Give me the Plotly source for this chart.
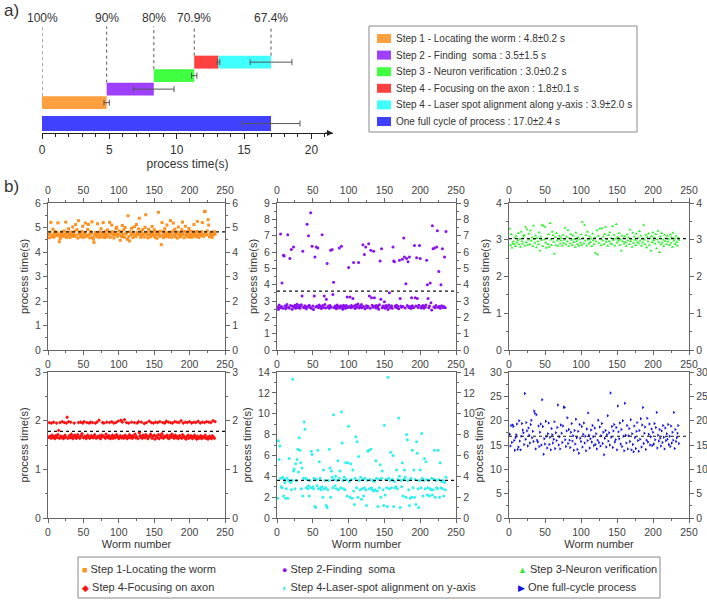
import plotly.graph_objects as go

# ------------------------------------------------------------------ data: panel a
step_names = ["Step 1 - Locating the worm", "Step 2 - Finding  soma", "Step 3 - Neuron verification",
              "Step 4 - Focusing on the axon", "Step 4 - Laser spot alignment along y-axis",
              "One full cycle of process"]
step_mean = [4.8, 3.5, 3.0, 1.8, 3.9, 17.0]
step_sd = [0.2, 1.5, 0.2, 0.1, 2.0, 2.4]
bar_err = [0.2, 1.5, 0.2, 0.1, 1.55, 2.15]          # half-widths of the drawn error bars
pct_labels = ["100%", "90%", "80%", "70.9%", "67.4%"]

# ------------------------------------------------------------------ data: panel b
s1 = [4.72,4.58,4.81,5.21,4.63,4.69,4.93,4.61,4.77,4.84,4.66,4.71,4.79,5.19,4.68,4.42,4.55,4.74,4.62,4.83,
      4.70,4.64,4.86,4.73,5.22,4.60,4.80,4.67,4.95,4.72,4.59,4.82,4.65,4.75,5.02,4.71,4.63,4.85,5.12,4.69,
      4.91,4.57,5.28,4.74,4.81,4.62,4.70,4.84,5.05,4.60,4.73,4.79,5.18,4.64,4.68,4.92,5.12,4.71,4.58,4.83,
      4.76,5.23,4.61,4.52,4.39,4.72,4.80,4.63,4.69,5.15,4.74,4.60,4.82,4.67,4.95,4.61,4.78,5.20,4.70,4.59,
      4.84,4.72,4.62,4.90,4.68,4.81,5.21,4.60,4.75,5.10,4.83,4.69,4.57,4.79,4.71,4.96,5.01,4.64,4.73,4.86,
      4.70,4.48,4.82,4.63,5.08,4.72,4.91,4.60,5.00,4.74,4.80,4.52,5.48,4.62,4.45,4.83,4.70,4.97,4.74,4.59,
      4.81,5.03,4.69,4.63,5.12,4.79,4.71,4.94,5.38,4.73,4.60,4.84,4.68,4.92,4.74,4.61,5.01,5.52,4.80,4.70,
      4.58,4.93,4.72,4.85,4.62,4.73,5.04,4.80,4.68,4.91,4.60,4.83,4.71,4.56,4.82,5.62,4.72,4.64,4.85,4.30,
      5.20,4.70,4.59,4.83,4.95,4.72,4.63,5.10,4.80,4.70,4.61,4.81,5.28,4.73,4.60,4.84,5.18,4.69,4.93,4.62,
      4.74,4.82,4.57,5.02,4.71,4.80,4.63,4.70,4.91,5.22,4.72,4.58,4.84,5.05,4.68,4.77,4.62,4.83,4.96,4.71,
      4.60,4.85,4.72,4.61,4.82,5.12,4.69,4.79,4.63,4.84,5.25,4.70,4.59,4.81,4.75,4.66,4.83,5.20,4.72,4.64,
      5.65,5.66,4.80,4.70,4.86,5.32,5.10,4.62,4.74,4.69,4.81,4.60,4.78,4.71,4.83,4.73]

s2 = [2.62,2.48,2.75,2.58,7.10,2.66,4.10,2.55,5.80,5.75,2.70,2.52,2.64,2.78,7.05,2.60,2.57,5.60,2.73,6.15,
      2.50,2.68,6.30,2.61,2.74,2.56,2.66,2.80,2.59,2.63,2.72,2.55,2.69,2.77,3.30,6.05,2.62,2.58,2.71,2.65,
      2.53,7.70,2.67,7.00,2.74,2.60,8.40,2.56,6.35,2.70,2.48,3.30,5.70,2.63,6.30,2.69,6.25,2.58,2.75,2.61,
      2.66,2.54,7.05,2.72,2.60,3.30,2.78,2.57,3.10,5.30,2.64,2.69,2.55,2.73,6.10,2.62,6.15,3.40,4.15,2.58,
      2.70,2.63,2.52,2.76,2.60,2.67,6.25,2.57,2.71,6.35,2.64,2.49,2.74,2.61,2.68,2.55,2.72,3.25,2.60,5.05,
      2.66,3.25,2.58,2.73,2.62,3.15,5.35,2.69,2.54,2.75,2.60,2.67,2.81,5.35,2.57,2.70,2.63,2.78,2.59,6.45,
      2.66,5.85,2.52,6.30,2.71,2.60,2.68,6.50,3.30,2.56,6.10,3.20,2.74,2.62,6.05,3.20,2.69,2.57,2.73,2.61,
      2.66,2.50,2.77,5.45,3.10,6.20,2.58,2.70,2.63,2.95,2.55,2.72,2.61,2.67,2.48,2.75,3.50,2.59,2.64,2.71,
      2.56,6.30,5.45,5.40,2.69,2.62,2.74,2.58,2.66,2.52,5.50,3.15,2.70,2.61,5.55,2.67,6.85,5.70,2.57,4.05,
      5.60,2.73,5.40,2.60,5.70,2.66,2.54,3.20,2.71,2.62,2.58,6.40,3.20,2.69,5.65,3.15,2.60,2.74,6.40,5.60,
      2.57,2.68,2.63,2.72,2.55,2.66,2.61,2.75,5.50,4.00,3.15,2.59,2.70,4.10,2.90,2.45,7.60,6.20,2.64,6.25,
      2.58,2.73,6.30,7.30,2.62,4.80,2.68,2.55,4.00,2.71,6.20,2.60,2.66,5.70,2.59,7.25]

s3 = [3.30,2.85,3.15,2.78,2.90,2.95,2.88,3.05,2.82,3.10,2.92,2.98,3.18,2.87,3.02,2.80,3.22,2.95,2.89,3.08,
      3.12,2.84,3.35,2.93,3.28,2.86,3.00,3.16,2.88,3.25,2.97,3.06,2.83,3.38,3.02,2.91,3.11,2.79,3.04,2.95,
      2.87,3.20,2.70,3.08,2.99,3.40,2.82,3.38,3.01,3.35,2.92,2.78,3.05,2.88,3.15,2.80,3.45,3.00,2.85,3.22,
      3.12,2.94,2.62,3.07,2.86,3.18,2.97,2.83,3.02,3.10,2.89,2.98,3.05,2.84,3.13,2.91,3.00,3.32,2.87,3.08,
      2.95,3.26,2.82,3.04,2.90,3.15,2.99,2.85,3.11,2.93,3.02,2.80,3.19,2.96,2.88,3.07,2.83,3.01,2.92,3.14,
      2.86,3.48,3.05,2.90,3.40,2.97,3.12,2.84,3.22,3.00,2.89,3.09,2.93,3.03,2.82,3.16,2.98,2.87,3.06,2.64,
      2.95,3.25,2.60,3.10,2.91,3.30,3.02,2.85,3.31,2.98,3.08,2.88,3.15,3.35,2.94,3.01,2.83,3.12,2.96,3.20,
      2.90,3.05,2.87,3.37,2.99,3.13,2.84,3.03,3.42,2.92,3.07,2.97,3.18,2.86,3.00,2.70,3.11,2.95,3.04,2.89,
      3.09,2.93,2.83,3.14,2.98,3.06,2.88,3.27,2.96,3.02,2.80,3.19,2.91,3.08,2.99,2.85,3.16,2.94,3.05,2.90,
      3.23,2.97,3.11,2.84,3.03,2.92,3.40,3.00,2.87,3.13,2.79,3.07,2.95,3.17,2.86,3.04,2.70,3.10,2.93,3.20,
      2.98,3.06,2.89,3.15,2.76,3.01,3.24,2.94,2.66,3.09,2.87,3.18,2.92,3.00,2.82,3.13,2.96,3.04,2.88,3.11,
      2.95,3.02,2.85,3.14,2.91,3.07,2.80,3.19,2.97,3.03,2.88,3.10,2.93,2.84,3.05,2.99]

s4a = [1.66,1.96,1.68,1.64,1.95,1.70,1.65,1.97,1.67,1.63,1.69,1.95,1.66,1.71,1.80,1.64,1.96,1.68,1.65,1.98,
       1.67,1.63,1.96,1.70,1.66,1.95,2.07,1.64,1.98,1.69,1.65,1.97,1.72,1.66,1.63,1.68,1.95,1.70,1.65,1.64,
       1.67,1.71,1.96,1.66,1.64,1.97,1.69,1.73,1.95,1.65,1.98,1.68,1.66,1.63,1.96,1.70,1.67,1.95,1.64,1.97,
       1.69,1.66,1.96,1.65,1.68,1.71,1.95,1.64,1.97,1.67,1.66,2.01,1.69,1.63,1.65,1.70,1.96,1.68,1.95,1.66,
       1.64,1.72,1.97,1.67,1.65,1.69,1.96,1.63,1.66,1.98,1.70,1.64,1.95,1.68,1.65,1.96,1.71,1.67,1.99,1.63,
       1.66,1.69,2.01,1.65,1.97,1.68,1.64,2.02,1.70,1.66,1.96,1.63,1.67,1.95,1.71,1.65,1.68,1.97,1.64,1.69,
       1.66,1.96,1.72,1.65,1.67,1.95,1.63,1.98,1.75,1.69,1.66,1.97,1.64,1.70,1.67,1.94,1.65,1.71,1.96,1.68,
       1.63,1.66,1.99,1.69,1.72,1.96,1.64,1.67,1.95,1.70,1.62,1.97,1.68,1.65,1.96,1.71,1.63,1.98,1.69,1.66,
       1.73,1.96,1.64,1.68,1.95,1.67,1.99,1.70,1.65,1.97,1.63,1.69,1.96,1.66,1.72,1.95,1.68,1.64,1.98,1.70,
       1.65,1.97,1.67,1.63,1.96,1.69,1.66,2.00,1.64,1.71,1.95,1.68,1.65,1.97,1.62,1.67,1.96,1.70,1.64,1.98,
       1.66,1.69,1.95,1.63,1.67,1.97,1.70,1.65,1.96,1.62,1.68,1.99,1.64,1.66,1.95,1.69,1.63,1.97,1.67,1.65,
       1.96,1.70,1.64,1.98,1.66,1.62,1.97,1.68,1.65,1.96,1.63,1.69,2.00,1.66,1.64,1.98]

s4b = [1.9,7.4,5.6,6.9,3.8,3.0,2.9,3.9,2.1,3.7,3.4,1.9,2.8,3.8,1.9,3.6,5.7,3.5,3.4,2.7,
       3.6,13.3,4.5,4.7,2.8,5.2,3.6,5.6,6.6,4.4,7.7,6.5,5.3,2.8,4.8,2.1,3.8,9.2,8.5,3.8,
       2.9,3.7,2.8,3.1,2.1,3.6,2.9,6.4,6.1,3.0,2.8,3.8,1.1,1.0,3.7,3.1,6.5,2.8,5.4,3.8,
       2.9,2.7,3.0,2.0,4.6,2.8,3.6,2.9,1.2,1.0,2.7,3.6,6.6,4.8,2.0,4.5,3.9,2.9,9.9,3.7,
       3.1,4.0,2.8,3.6,5.5,2.7,3.8,4.5,2.9,10.2,7.2,3.6,2.8,3.9,2.7,5.3,3.7,2.1,5.3,8.8,
       3.5,2.0,5.2,3.7,1.9,4.6,2.6,1.3,3.8,7.8,2.9,7.3,2.0,5.9,3.6,2.7,3.9,1.8,2.8,3.7,
       2.1,2.9,3.8,2.7,1.2,3.6,6.4,6.5,2.8,3.7,6.6,2.9,2.7,3.6,2.6,3.5,2.7,5.5,3.8,2.6,
       1.1,3.7,2.9,5.1,2.0,3.8,4.5,2.7,1.2,8.9,2.2,3.7,2.9,1.1,13.5,3.8,2.8,3.6,6.3,2.9,
       3.7,6.0,1.1,3.5,2.9,3.0,4.6,2.8,3.7,9.6,4.0,1.0,3.6,3.0,5.3,2.1,3.7,4.6,3.9,2.0,
       8.0,7.5,3.6,2.7,1.2,1.9,3.8,2.0,6.5,2.9,4.6,2.0,3.7,1.3,7.3,6.2,2.8,1.0,3.6,4.6,
       2.9,8.1,3.8,2.1,3.6,5.7,2.8,5.4,3.7,2.2,2.9,3.6,2.1,2.8,2.7,3.8,2.2,2.7,3.7,6.5,
       2.0,3.6,2.9,2.8,6.5,3.7,2.0,5.3,2.9,3.5,2.8,3.6,2.1,3.4,2.7,3.9]

s5 = [17.2,14.8,19.0,15.5,19.1,18.8,15.9,13.9,16.5,17.1,19.3,14.1,14.6,20.0,15.8,14.0,16.8,19.4,18.1,17.5,
      15.1,25.6,16.2,19.6,17.9,14.8,18.5,17.0,15.4,19.2,20.1,16.5,17.8,15.7,22.0,21.5,14.2,21.2,16.0,15.6,
      18.9,14.7,17.6,19.3,15.0,24.3,18.8,13.1,16.3,15.2,19.9,16.8,14.4,17.3,19.5,15.1,16.6,14.0,18.4,17.1,
      15.4,16.2,19.8,14.3,17.5,15.9,18.6,23.2,15.0,16.7,14.2,19.1,17.4,15.5,18.9,22.8,22.7,16.1,14.7,17.9,
      20.6,15.3,18.2,16.0,14.5,17.6,19.4,15.8,16.9,13.9,18.0,15.2,20.3,16.5,14.1,17.8,13.3,19.2,16.4,15.7,
      18.8,14.6,17.2,19.5,15.4,16.8,13.8,18.3,15.9,21.6,17.0,14.4,16.3,18.1,15.6,19.0,16.7,14.9,18.5,15.1,
      17.3,14.2,16.0,20.1,15.5,18.7,14.8,16.9,19.4,15.3,17.6,13.0,16.4,18.0,14.6,17.1,21.0,15.8,17.5,15.0,
      25.7,16.6,18.8,14.5,17.9,19.2,15.6,16.1,18.6,14.0,23.0,17.7,16.3,19.5,15.2,18.2,14.7,20.0,16.8,13.8,
      23.6,17.0,15.4,19.0,14.2,16.9,18.4,15.7,20.2,14.0,17.3,15.1,13.6,18.9,16.5,14.3,17.8,19.6,15.9,13.7,
      18.0,16.2,20.4,14.6,19.1,22.7,15.3,17.4,18.7,14.1,16.0,20.5,15.6,17.2,19.3,15.0,16.7,18.3,14.9,17.6,
      15.2,19.4,16.1,18.6,21.7,14.4,17.0,15.8,18.2,16.4,14.8,17.9,15.5,19.0,16.6,14.2,18.5,15.9,17.3,16.2,
      19.2,15.1,16.8,14.7,18.9,15.4,17.6,16.0,21.7,14.3,18.2,15.7,16.5,17.4,19.0,15.3]

panel_series = [s1, s2, s3, s4a, s4b, s5]
panel_means = [4.82, 3.6, 3.03, 1.78, 3.6, 16.8]
panel_names = ["Step 1-Locating the worm", "Step 2-Finding  soma", "Step 3-Neuron verification",
               "Step 4-Focusing on axon", "Step 4-Laser-spot alignment on y-axis", "One full-cycle process"]
worm_ticks = [0, 50, 100, 150, 200, 250]

# ------------------------------------------------------------------ styles / layout constants
W, H = 707, 601
def X(p): return p / W
def Y(p): return 1 - p / H

FONT = "Liberation Sans, Arial, sans-serif"
TXT = "#333333"
bar_colors = ["#FFA040", "#A040FF", "#40FF40", "#FF4040", "#40FFFF", "#4040FF"]
pt_colors = ["#FF9020", "#8A10F0", "#30F030", "#FF1010", "#30F0F0", "#1010E8"]
pt_symbols = ["square", "circle", "triangle-up", "diamond", "circle", "triangle-right"]
leg_glyphs = ["■", "●", "▲", "◆", "◐", "▶"]
row_pos = [1.55, 2.55, 3.55, 4.55, 4.55, 0.0]
bar_w = [0.96, 0.96, 0.96, 0.96, 0.96, 1.12]
y_max = [6, 9, 4, 3, 14, 30]
y_dt = [1, 1, 1, 1, 2, 5]
col_px = [(48, 225), (277, 456), (509, 689)]
row_px = [(203, 350), (372, 518)]

fig = go.Figure()
shapes, annos = [], []

# ------------------------------------------------------------------ panel a: stacked timeline bars
bases = []
acc = 0.0
for m in step_mean[:5]:
    bases.append(acc)
    acc += m
bases.append(0.0)
ends = [b + m for b, m in zip(bases, step_mean)]

fig.add_trace(go.Bar(
    orientation="h", y=row_pos, x=step_mean, base=bases, width=bar_w,
    marker=dict(color=bar_colors, line=dict(width=0)),
    error_x=dict(type="data", array=bar_err, color="#555555", thickness=1, width=3),
    xaxis="x10", yaxis="y13", showlegend=False, hoverinfo="skip"))

YTOP = 8.19
fig.update_layout(
    xaxis10=dict(domain=[X(42), X(333)], range=[0, 21.6], anchor="y13", automargin=False,
                 showline=True, linecolor="#222", linewidth=1.3, showgrid=False, zeroline=False,
                 ticks="outside", ticklen=5, tickcolor="#222",
                 tickvals=[0, 5, 10, 15, 20],
                 minor=dict(ticks="outside", ticklen=3, dtick=1, tick0=0, tickcolor="#222"),
                 tickfont=dict(size=12, color=TXT, family=FONT),
                 title=dict(text="process time(s)", font=dict(size=12, color=TXT, family=FONT), standoff=2)),
    yaxis13=dict(domain=[Y(133), Y(13)], range=[-0.7, YTOP], anchor="x10", visible=False, automargin=False),
)
annos.append(dict(x=21.6, y=-0.7, xref="x10", yref="y13", ax=20.9, ay=-0.7, axref="x10", ayref="y13",
                  showarrow=True, arrowhead=2, arrowsize=1, arrowwidth=1.2, arrowcolor="#222", text=""))

pct_x = [0.0, ends[0], ends[1], ends[2], ends[4]]
pct_row = [0, 1, 2, 3, 4]
for k, lab in enumerate(pct_labels):
    r = pct_row[k]
    shapes.append(dict(type="line", xref="x10", yref="y13", x0=pct_x[k], x1=pct_x[k],
                       y0=row_pos[r] + bar_w[r] / 2, y1=7.2,
                       line=dict(color="#555555", width=1, dash="dot")))
    annos.append(dict(x=pct_x[k], y=Y(18), xref="x10", yref="paper", yanchor="middle", showarrow=False,
                      text=lab, font=dict(size=12, color=TXT, family=FONT)))

# legend of panel a
shapes.append(dict(type="rect", xref="paper", yref="paper", x0=X(369), x1=X(637), y0=Y(132), y1=Y(26),
                   line=dict(color="#888888", width=1), fillcolor="rgba(0,0,0,0)"))
for k, name in enumerate(step_names):
    ry = 38.5 + 16.6 * k
    shapes.append(dict(type="rect", xref="paper", yref="paper", x0=X(377), x1=X(391),
                       y0=Y(ry + 4.5), y1=Y(ry - 4.5), line=dict(width=0), fillcolor=bar_colors[k]))
    annos.append(dict(x=X(394), y=Y(ry), xref="paper", yref="paper", xanchor="left", yanchor="middle",
                      showarrow=False, text=f"{name} : {step_mean[k]:.1f}±{step_sd[k]:.1f} s",
                      font=dict(size=10, color=TXT, family=FONT)))

# ------------------------------------------------------------------ panel b: six scatter panels
def xn(n): return "x" if n == 1 else f"x{n}"
def yn(n): return "y" if n == 1 else f"y{n}"
def xk(n): return "xaxis" if n == 1 else f"xaxis{n}"
def yk(n): return "yaxis" if n == 1 else f"yaxis{n}"

AX = "#666666"
tickf = dict(size=10.5, color="#444444", family=FONT)
lay = {}
for i in range(1, 7):
    c, r = (i - 1) % 3, (i - 1) // 3
    vals = panel_series[i - 1]
    worm = list(range(1, len(vals) + 1))
    fig.add_trace(go.Scatter(
        x=worm, y=vals, mode="markers", xaxis=xn(i), yaxis=yn(i), showlegend=False, hoverinfo="skip",
        marker=dict(symbol=pt_symbols[i - 1], size=3.0, color=pt_colors[i - 1], line=dict(width=0))))
    # empty traces that register the mirrored (labelled) axes
    fig.add_trace(go.Scatter(x=[], y=[], xaxis=xn(i), yaxis=yn(6 + i), showlegend=False, hoverinfo="skip"))
    if r == 0:
        fig.add_trace(go.Scatter(x=[], y=[], xaxis=xn(6 + i), yaxis=yn(i), showlegend=False, hoverinfo="skip"))

    xd = [X(col_px[c][0]), X(col_px[c][1])]
    yd = [Y(row_px[r][1]), Y(row_px[r][0])]
    common_x = dict(range=[0, 250], tickvals=worm_ticks, showline=True, linecolor=AX, linewidth=1.2,
                    showgrid=False, zeroline=False, ticks="outside", ticklen=4, tickcolor=AX,
                    minor=dict(ticks="outside", ticklen=2, dtick=25, tick0=0, tickcolor=AX),
                    tickfont=tickf, automargin=False)
    common_y = dict(range=[0, y_max[i - 1]], dtick=y_dt[i - 1], tick0=0, showline=True, linecolor=AX,
                    linewidth=1.2, showgrid=False, zeroline=False, ticks="outside", ticklen=4, tickcolor=AX,
                    minor=dict(ticks="outside", ticklen=2, dtick=y_dt[i - 1] / 2, tick0=0, tickcolor=AX),
                    tickfont=tickf, automargin=False)
    lay[xk(i)] = dict(domain=xd, anchor=yn(i), mirror=True, **common_x,
                      title=dict(text="Worm number" if r == 1 else "",
                                 font=dict(size=11, color=TXT, family=FONT), standoff=2))
    lay[yk(i)] = dict(domain=yd, anchor=xn(i), mirror=True, **common_y,
                      title=dict(text="process time(s)", font=dict(size=11, color=TXT, family=FONT),
                                 standoff=4))
    lay[yk(6 + i)] = dict(overlaying=yn(i), side="right", anchor=xn(i), **common_y)
    if r == 0:
        lay[xk(6 + i)] = dict(overlaying=xn(i), side="top", anchor=yn(i), **common_x)
    shapes.append(dict(type="line", xref=f"{xn(i)} domain", yref=yn(i), x0=0, x1=1,
                       y0=panel_means[i - 1], y1=panel_means[i - 1],
                       line=dict(color="#111111", width=1.2, dash="dot")))
fig.update_layout(**lay)

# legend of panel b
shapes.append(dict(type="rect", xref="paper", yref="paper", x0=X(78), x1=X(660), y0=Y(598), y1=Y(557),
                   line=dict(color="#888888", width=1), fillcolor="rgba(0,0,0,0)"))
leg_cols = [80, 280, 516]
leg_rows = [569, 587]
for k, name in enumerate(panel_names):
    c, r = k % 3, k // 3
    annos.append(dict(x=X(leg_cols[c]), y=Y(leg_rows[r]), xref="paper", yref="paper", xanchor="left",
                      yanchor="middle", showarrow=False,
                      text=f'<span style="color:{pt_colors[k]};font-size:9px">{leg_glyphs[k]}</span> {name}',
                      font=dict(size=11, color=TXT, family=FONT)))

annos.append(dict(x=X(2), y=Y(11), xref="paper", yref="paper", xanchor="left", yanchor="middle",
                  showarrow=False, text="a)", font=dict(size=17, color=TXT, family=FONT)))
annos.append(dict(x=X(2), y=Y(187), xref="paper", yref="paper", xanchor="left", yanchor="middle",
                  showarrow=False, text="b)", font=dict(size=17, color=TXT, family=FONT)))

fig.update_layout(
    width=W, height=H, margin=dict(l=0, r=0, t=0, b=0),
    paper_bgcolor="white", plot_bgcolor="white", showlegend=False,
    font=dict(family=FONT, color=TXT),
    shapes=shapes, annotations=annos,
)

# remove the browser's default 8px body margin so the figure fills the 707x601 window exactly
fig.write_html("out.html", config={"displayModeBar": False},
               post_script="document.body.style.margin='0';document.body.style.overflow='hidden';")
